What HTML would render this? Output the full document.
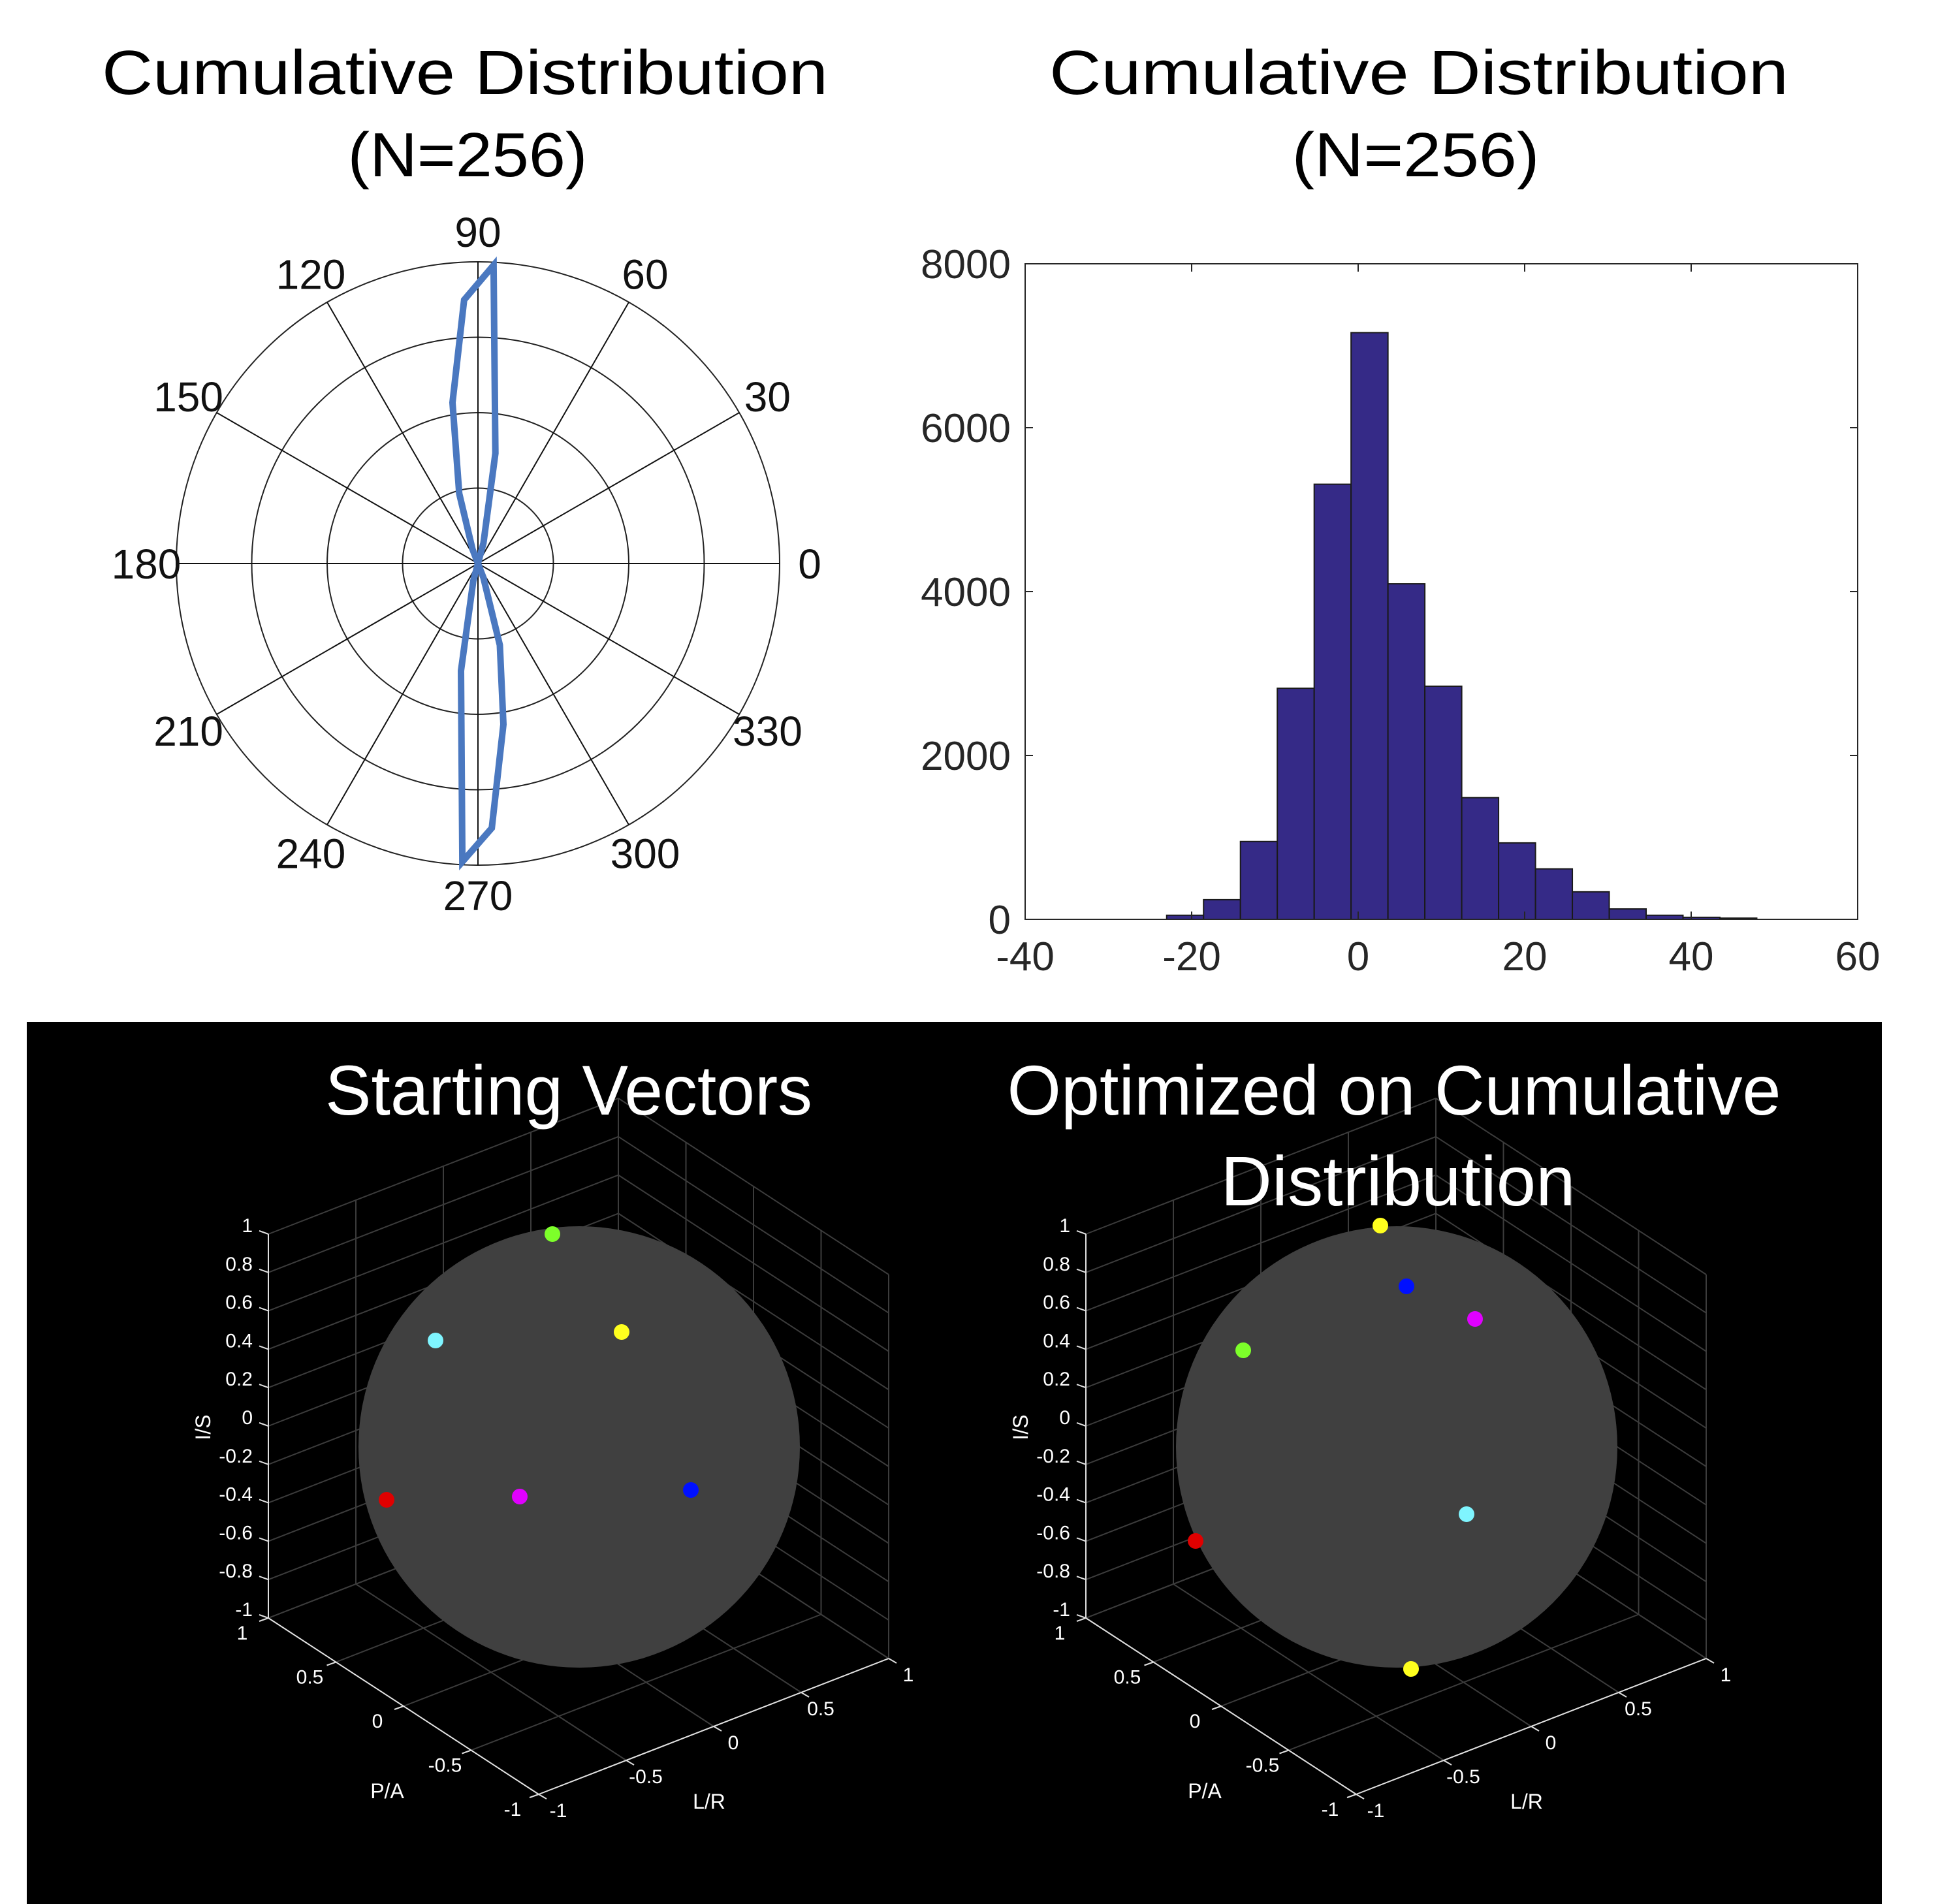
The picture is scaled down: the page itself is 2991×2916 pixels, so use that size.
<!DOCTYPE html>
<html><head><meta charset="utf-8"><style>
html,body{margin:0;padding:0;background:#fff}
svg{display:block}
text{font-family:"Liberation Sans",sans-serif}
</style></head><body>
<svg id="root" width="2991" height="2916" viewBox="0 0 2991 2916" xmlns="http://www.w3.org/2000/svg">
<rect x="0" y="0" width="2991" height="2916" fill="#fff"/>
<text x="712" y="144" font-size="96" text-anchor="middle" textLength="1112" lengthAdjust="spacingAndGlyphs">Cumulative Distribution</text>
<text x="716" y="270" font-size="96" text-anchor="middle" textLength="367" lengthAdjust="spacingAndGlyphs">(N=256)</text>
<text x="2173" y="144" font-size="96" text-anchor="middle" textLength="1132" lengthAdjust="spacingAndGlyphs">Cumulative Distribution</text>
<text x="2168" y="270" font-size="96" text-anchor="middle" textLength="379" lengthAdjust="spacingAndGlyphs">(N=256)</text>
<g id="polar"></g>
<g id="hist"></g>
<rect x="41" y="1565" width="2841" height="1351" fill="#000"/>
<g id="s1"></g>
<g id="s2"></g>
<text x="871" y="1707" font-size="108" fill="#fff" text-anchor="middle" textLength="746" lengthAdjust="spacingAndGlyphs">Starting Vectors</text>
<text x="2135" y="1707" font-size="108" fill="#fff" text-anchor="middle" textLength="1185" lengthAdjust="spacingAndGlyphs">Optimized on Cumulative</text>
<text x="2141" y="1846" font-size="108" fill="#fff" text-anchor="middle" textLength="543" lengthAdjust="spacingAndGlyphs">Distribution</text>
</svg>
<script>
// ---------- polar rose data ----------
const roseAngles = [63, 69, 75, 81, 87, 93, 99, 105, 111, 117, 243, 249, 255, 261, 267, 273, 279, 285, 291, 297];
const roseValues = [0, 0, 0.07, 0.37, 0.99, 0.875, 0.54, 0.24, 0.05, 0, 0, 0, 0.06, 0.36, 0.99, 0.878, 0.54, 0.28, 0.05, 0];
const polarLabels = ["0","30","60","90","120","150","180","210","240","270","300","330"];
// ---------- histogram data ----------
const histStart = -23.0;
const histWidth = 4.43;
const histCounts = [50, 240, 950, 2820, 5310, 7160, 4095, 2845, 1485, 933, 616, 336, 127, 50, 25, 15];
const histXTicks = [-40, -20, 0, 20, 40, 60];
const histYTicks = [0, 2000, 4000, 6000, 8000];
// ---------- sphere point data (L/R, P/A, I/S) as screen-projected unit vectors ----------
const startColors = ["#7dff2a", "#7ff5ff", "#ffff1e", "#e00000", "#e000ff", "#0010ff"];
const startPts = [[846,1890],[667,2053],[952,2040],[592,2297],[796,2292],[1058,2282]];
const optColors = ["#ffff1e", "#0010ff", "#e000ff", "#7dff2a", "#7ff5ff", "#e00000", "#ffff1e"];
const optPts = [[2114,1877],[2154,1970],[2259,2020],[1904,2068],[2246,2319],[1831,2360],[2161,2556]];
const zTicks = ["1","0.8","0.6","0.4","0.2","0","-0.2","-0.4","-0.6","-0.8","-1"];
const hTicks = ["-1","-0.5","0","0.5","1"];

const NS = "http://www.w3.org/2000/svg";
function mk(parent, tag, attrs, txt) {
  const e = document.createElementNS(NS, tag);
  for (const k in attrs) e.setAttribute(k, attrs[k]);
  if (txt !== undefined) e.textContent = txt;
  parent.appendChild(e);
  return e;
}

// ---------- polar ----------
(function(){
  const g = document.getElementById('polar');
  const cx = 732, cy = 863, R = 462;
  for (let i = 1; i <= 4; i++) {
    const c = mk(g, 'circle', {cx:cx, cy:cy, r:R*i/4, fill:'none', stroke:'#222', 'stroke-width':2});
    
    
  }
  for (let a = 0; a < 180; a += 30) {
    const t = a*Math.PI/180;
    const l = mk(g, 'line', {x1:cx+R*Math.cos(t), y1:cy-R*Math.sin(t), x2:cx-R*Math.cos(t), y2:cy+R*Math.sin(t), stroke:'#111', 'stroke-width':2});
    
    
  }
  polarLabels.forEach((s, i) => {
    const t = i*30*Math.PI/180;
    const rr = (i % 3 === 0) ? 508 : 512;
    const tx = mk(g, 'text', {x:cx+rr*Math.cos(t), y:cy-rr*Math.sin(t)+23, 'font-size':64, 'text-anchor':'middle', fill:'#111'}, s);
    
    
  });
  const pts = [];
  roseAngles.forEach((a, i) => {
    const t = a*Math.PI/180, r = roseValues[i]*R;
    pts.push((cx + r*Math.cos(t)).toFixed(1) + ',' + (cy - r*Math.sin(t)).toFixed(1));
  });
  const p = mk(g, 'polygon', {points:pts.join(' '), fill:'none', stroke:'#4a78c0', 'stroke-width':10, 'stroke-linejoin':'miter'});
  
  
})();

// ---------- histogram ----------
(function(){
  const g = document.getElementById('hist');
  const L = 1570, Rr = 2845, T = 404, B = 1408;
  const xs = v => L + (v + 40) / 100 * (Rr - L);
  const ys = v => B - v / 8000 * (B - T);
  histCounts.forEach((c, i) => {
    const x0 = xs(histStart + i*histWidth), x1 = xs(histStart + (i+1)*histWidth);
    const r = mk(g, 'rect', {x:x0, y:ys(c), width:x1-x0, height:B-ys(c), fill:'#352a87', stroke:'#1a1a1a', 'stroke-width':2});
    
    
  });
  const box = mk(g, 'rect', {x:L, y:T, width:Rr-L, height:B-T, fill:'none', stroke:'#262626', 'stroke-width':2});
  
  
  histXTicks.forEach(v => {
    const x = xs(v);
    mk(g, 'line', {x1:x, y1:B, x2:x, y2:B-12, stroke:'#262626', 'stroke-width':2});
    mk(g, 'line', {x1:x, y1:T, x2:x, y2:T+12, stroke:'#262626', 'stroke-width':2});
    const t = mk(g, 'text', {x:x, y:B+78, 'font-size':62, 'text-anchor':'middle', fill:'#262626'}, String(v));
    
    
  });
  histYTicks.forEach(v => {
    const y = ys(v);
    mk(g, 'line', {x1:L, y1:y, x2:L+12, y2:y, stroke:'#262626', 'stroke-width':2});
    mk(g, 'line', {x1:Rr, y1:y, x2:Rr-12, y2:y, stroke:'#262626', 'stroke-width':2});
    const t = mk(g, 'text', {x:L-22, y:y+22, 'font-size':62, 'text-anchor':'end', fill:'#262626'}, String(v));
    
    
  });
})();

// ---------- 3D sphere panels ----------
function sphere(gid, dx, colors, pts) {
  const g = document.getElementById(gid);
  const P = (lr, pa, z) => [411 + dx + (lr+1)/2*536 + (1-pa)/2*414, 2478 - (lr+1)/2*208 + (1-pa)/2*270 - (z+1)/2*588];
  const line = (a, b, col, w, name) => {
    const l = mk(g, 'line', {x1:a[0], y1:a[1], x2:b[0], y2:b[1], stroke:col, 'stroke-width':w});
    
    
  };
  const grid = '#3c3c3c';
  const h = [-1, -0.5, 0, 0.5, 1];
  const zz = [-1, -0.8, -0.6, -0.4, -0.2, 0, 0.2, 0.4, 0.6, 0.8, 1];
  // back-left wall (pa=1)
  zz.forEach(z => line(P(-1,1,z), P(1,1,z), grid, 2, 'grid-line'));
  h.forEach(v => line(P(v,1,-1), P(v,1,1), grid, 2, 'grid-line'));
  // back-right wall (lr=1)
  zz.forEach(z => line(P(1,-1,z), P(1,1,z), grid, 2, 'grid-line'));
  h.forEach(v => line(P(1,v,-1), P(1,v,1), grid, 2, 'grid-line'));
  // floor
  h.forEach(v => line(P(v,-1,-1), P(v,1,-1), grid, 2, 'grid-line'));
  h.forEach(v => line(P(-1,v,-1), P(1,v,-1), grid, 2, 'grid-line'));
  // axes
  line(P(-1,1,-1), P(-1,1,1), '#e0e0e0', 2, 'z-axis');
  line(P(-1,1,-1), P(-1,-1,-1), '#e0e0e0', 2, 'pa-axis');
  line(P(-1,-1,-1), P(1,-1,-1), '#e0e0e0', 2, 'lr-axis');
  zz.forEach((z, i) => {
    const p = P(-1,1,z);
    line([p[0]-14, p[1]-5], p, '#e0e0e0', 2, 'z-tick');
    const t = mk(g, 'text', {x:p[0]-24, y:p[1]-3, 'font-size':30, 'text-anchor':'end', fill:'#fff'}, zTicks[zTicks.length-1-i]);
    
    
  });
  h.forEach((v, i) => {
    const p = P(-1, v, -1);
    line(p, [p[0]-14, p[1]+5], '#e0e0e0', 2, 'pa-tick');
    const t = mk(g, 'text', {x:p[0]-40, y:p[1]+33, 'font-size':30, 'text-anchor':'middle', fill:'#fff'}, hTicks[i]);
    
    
    const q = P(v, -1, -1);
    line(q, [q[0]+12, q[1]+7], '#e0e0e0', 2, 'lr-tick');
    const t2 = mk(g, 'text', {x:q[0]+30, y:q[1]+35, 'font-size':30, 'text-anchor':'middle', fill:'#fff'}, hTicks[i]);
    
    
  });
  const a1 = mk(g, 'text', {x:0, y:0, 'font-size':32, 'text-anchor':'middle', fill:'#fff', transform:`translate(${322+dx},2186) rotate(-90)`}, 'I/S');
  
  
  const a2 = mk(g, 'text', {x:593+dx, y:2754, 'font-size':32, 'text-anchor':'middle', fill:'#fff'}, 'P/A');
  
  
  const a3 = mk(g, 'text', {x:1086+dx, y:2770, 'font-size':32, 'text-anchor':'middle', fill:'#fff'}, 'L/R');
  
  
  const s = mk(g, 'circle', {cx:887+dx, cy:2216, r:338, fill:'#404040'});
  
  
  pts.forEach((p, i) => {
    const c = mk(g, 'circle', {cx:p[0], cy:p[1], r:12, fill:colors[i]});
    
    
  });
}
sphere('s1', 0, startColors, startPts);
sphere('s2', 1252, optColors, optPts);
</script>
</body></html>
